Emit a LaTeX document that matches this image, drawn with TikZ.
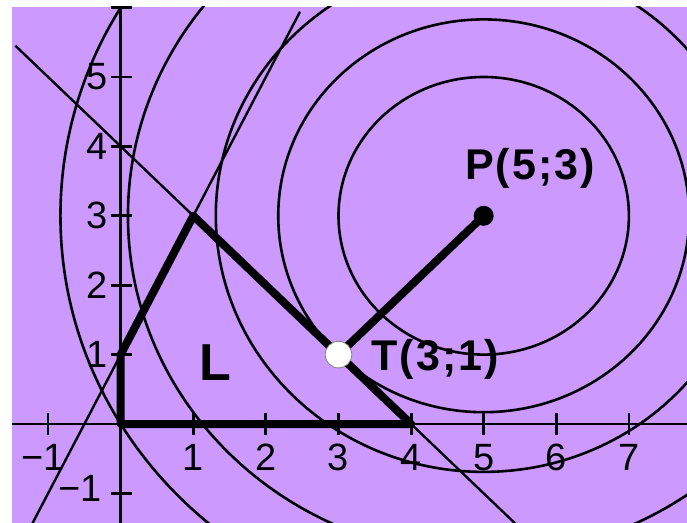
\documentclass[tikz,border=0pt]{standalone}
\usepackage{fontspec}
\setmainfont{Liberation Sans}
\newfontfamily\tagfont[LetterSpace=5]{Liberation Sans}
\definecolor{lilac}{HTML}{CC99FF}
\begin{document}
\begin{tikzpicture}[x=72.6bp,y=69.4bp,
  ring/.style={line width=2.6bp},
  guide/.style={line width=2.4bp},
  axis/.style={line width=2.8bp},
  bound/.style={line width=8bp,line join=round},
  num/.style={inner sep=0pt,font=\fontsize{38bp}{40bp}\selectfont},
  tag/.style={inner sep=0pt,anchor=base west,font=\fontsize{43bp}{46bp}\tagfont\bfseries}]
  \useasboundingbox (-1.6625,-1.4265) rectangle (7.8003,6.1095);
  \fill[lilac] (-1.4959,-1.4265) rectangle (7.8003,6.0086);
  \coordinate (O) at (0,0);
  \coordinate (A) at (4,0);
  \coordinate (B) at (1,3);
  \coordinate (C) at (0,1);
  \coordinate (T) at (3,1);
  \coordinate (P) at (5,3);
  \begin{scope}
    \clip (-1.4959,-1.4265) rectangle (7.8003,6.0086);
    % level lines
    \foreach \r in {2,2.83,3.69,4.9,5.83}
      \draw[ring] (P) ellipse [x radius=\r, y radius=\r];
    % boundary lines
    \draw[guide] (-1.45,5.45) -- (5.6,-1.6);
    \draw[guide] (-1.3,-1.6) -- (2.47,5.94);
    % axes
    \draw[axis] (-1.6,0) -- (7.9,0);
    \draw[axis] (0,-1.5) -- (0,6.1);
    \foreach \k in {-1,1,2,...,7}
      \draw[axis] (\k,0) ++(0,-11bp) -- ++(0,22bp);
    \foreach \k in {-1,1,2,...,6}
      \draw[axis] (0,\k) ++(-10bp,0) -- ++(21bp,0);
  \end{scope}
  \foreach \k in {1,...,7}
    \node[num,anchor=north] (x\k) at (\k,-0.288) {\k};
  \node[num,anchor=north] (xm) at (-1.07,-0.288) {−1};
  \foreach \k in {1,...,5}
    \node[num,anchor=east] (y\k) at (-0.176,\k) {\k};
  \node[num,anchor=east] (ym) at (-0.26,-0.93) {−1};
  % region L and the shortest segment
  \draw[bound] (O) -- (A) -- (B) -- (C) -- cycle;
  \draw[bound] (T) -- (P);
  \fill (P) circle [radius=10bp];
  \node[circle,fill=white,draw=gray,line width=0.8bp,minimum size=26.6bp,inner sep=0pt] (tdot) at (T) {};
  \node[tag] (ptag) at (4.74,3.516) {P(5;3)};
  \node[tag] (ttag) at (3.45,0.778) {T(3;1)};
  \node[tag,font=\fontsize{52bp}{56bp}\selectfont\bfseries] (ltag) at (1.08,0.634) {L};
\end{tikzpicture}
\end{document}
